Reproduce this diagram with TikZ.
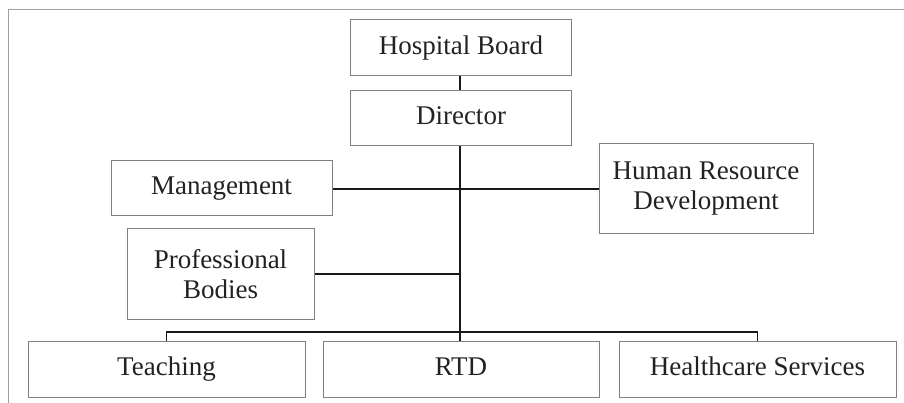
\documentclass[tikz,border=0pt]{standalone}
\usepackage{fontspec}
\setmainfont{Liberation Serif}
\definecolor{boxline}{HTML}{808080}
\definecolor{frameline}{HTML}{A0A0A0}
\definecolor{txt}{HTML}{222222}
\tikzset{
  orgbox/.style={draw=boxline, line width=1pt, rectangle, inner sep=0pt,
    align=center, text=txt, font=\fontsize{27}{30}\selectfont},
  oneline/.style={orgbox, text height=19pt, text depth=6.75pt},
  link/.style={draw=black!90, line width=1.3pt}
}
\begin{document}
\begin{tikzpicture}[x=1pt,y=-1pt]
  \useasboundingbox (0,0) rectangle (904,403);
  % outer frame (top and left edges only)
  \draw[frameline, line width=1.6pt] (8.5,403) -- (8.5,9.5) -- (904,9.5);

  \node[oneline, minimum width=221pt, minimum height=56pt] (board) at (461,48) {Hospital Board};
  \node[oneline, minimum width=221pt, minimum height=55pt] (director) at (461,118.5) {Director};
  \node[oneline, minimum width=221pt, minimum height=55pt] (mgmt) at (221.5,188.5) {Management};
  \node[orgbox, minimum width=214pt, minimum height=90pt] (hrd) at (706,189) {Human Resource\\Development};
  \node[orgbox, minimum width=187pt, minimum height=90pt] (prof) at (220.5,274) {Professional\\Bodies};
  \node[oneline, minimum width=277pt, minimum height=56pt] (teach) at (166.5,369) {Teaching};
  \node[oneline, minimum width=276pt, minimum height=56pt] (rtd) at (461,369) {RTD};
  \node[oneline, minimum width=277pt, minimum height=56pt] (health) at (757.5,369) {Healthcare Services};

  \coordinate (bus) at (460,332);

  \draw[link] (board.south -| bus) -- (director.north -| bus);
  \draw[link] (director.south -| bus) -- (rtd.north -| bus);
  \draw[link] (mgmt.east |- hrd.west) -- (hrd.west);
  \draw[link] (prof.east) -- (prof.east -| bus);
  \draw[link] (teach.north) |- (bus) -| (health.north);
\end{tikzpicture}
\end{document}
